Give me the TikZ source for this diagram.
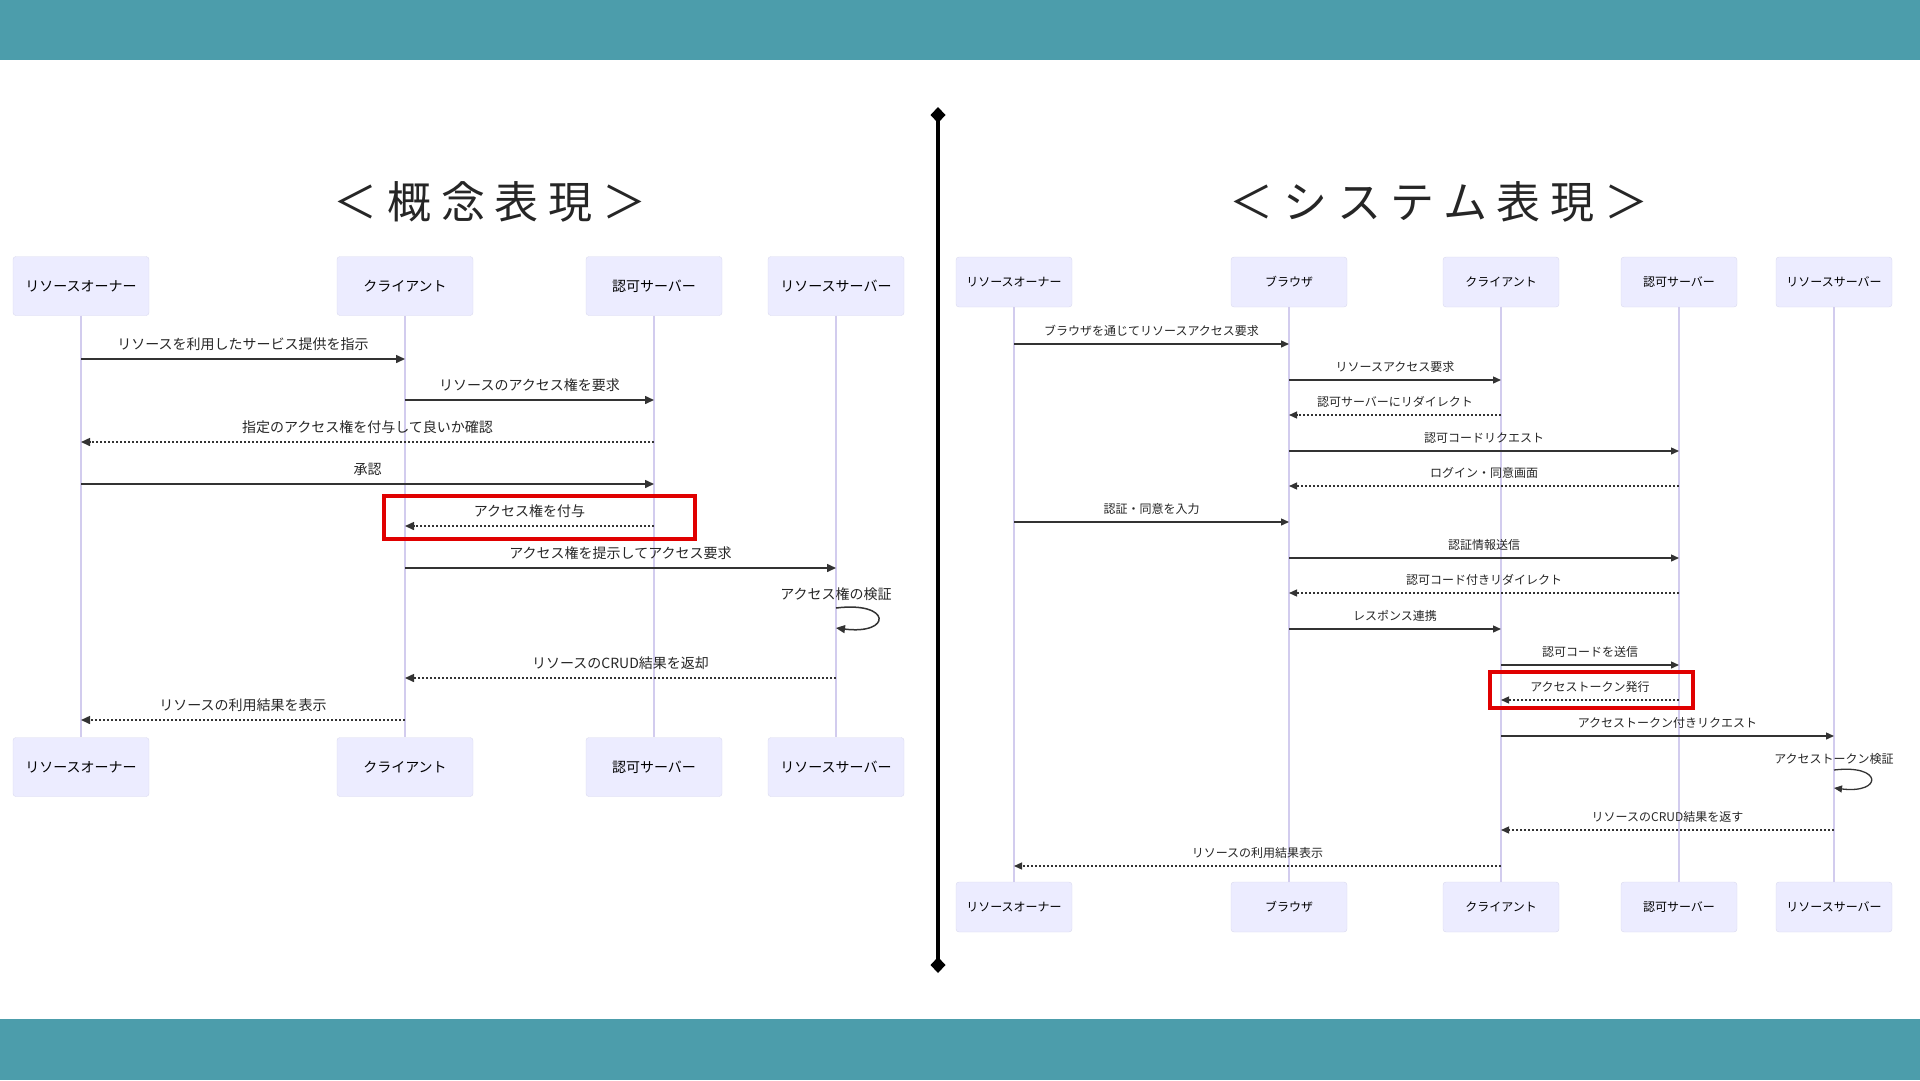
\documentclass[tikz,border=0pt]{standalone}
\usepackage{fontspec}
\setmainfont{Noto Sans CJK JP}
\newfontfamily\titlefont[LetterSpace=22]{Noto Sans CJK JP}
\usepackage{xcolor}
\usetikzlibrary{arrows.meta, positioning, calc}

\definecolor{bandteal}{HTML}{4C9DAB}
\definecolor{actorfill}{HTML}{ECECFF}
\definecolor{actorline}{HTML}{DADAEE}
\definecolor{lifecol}{HTML}{D2CCEE}
\definecolor{msgcol}{HTML}{333333}
\definecolor{hired}{HTML}{E00000}

\begin{document}
\begin{tikzpicture}[
x=1pt, y=-1pt,
    band/.style={fill=bandteal, draw=none},
    title/.style={font=\titlefont\fontsize{44}{50}\selectfont, text=black!85},
    actorL/.style={rectangle, draw=actorline, fill=actorfill, rounded corners=3pt, minimum width=136pt, minimum height=59pt, font=\fontsize{14}{16}\selectfont},
    actorR/.style={rectangle, draw=actorline, fill=actorfill, rounded corners=3pt, minimum width=116pt, minimum height=50pt, font=\fontsize{12}{14}\selectfont},
    life/.style={draw=lifecol, line width=1.5pt},
    msgL/.style={draw=msgcol, line width=1.5pt, -{Triangle[length=9pt,width=8pt]}},
    rplL/.style={msgL, dash pattern=on 2pt off 2pt},
    msgR/.style={draw=msgcol, line width=1.3pt, -{Triangle[length=8pt,width=7pt]}},
    rplR/.style={msgR, dash pattern=on 2pt off 2pt},
    textL/.style={inner sep=0pt, font=\fontsize{14}{16}\selectfont, text=black!85},
    textR/.style={inner sep=0pt, font=\fontsize{12}{14}\selectfont, text=black!85},
    lblL/.style={textL, midway, yshift=15pt},
    lblR/.style={textR, midway, yshift=13pt},
    hilite/.style={draw=hired, line width=4pt},
    divider/.style={line width=4pt, {Diamond[length=16pt,width=15pt]}-{Diamond[length=16pt,width=15pt]}}
]
\useasboundingbox (0,0) rectangle (1920,1080);

    % ================= FRAME =================
    \fill[band] (0,0) rectangle (1920,60);
    \fill[band] (0,1019) rectangle (1920,1080);

    \coordinate (divTop) at (938,107);
    \coordinate (divBot) at (938,973);
    \draw[divider] (divTop) -- (divBot);

    \node[title] (tConcept) at (490,202) {＜概念表現＞};
    \node[title] (tSystem) at (1439,202) {＜システム表現＞};

    % ================= CONCEPT: ACTORS =================
    \node[actorL] (cOwnerT) at (81,286) {リソースオーナー};
    \node[actorL] (cClientT) at (405,286) {クライアント};
    \node[actorL] (cAuthT) at (654,286) {認可サーバー};
    \node[actorL] (cResT) at (836,286) {リソースサーバー};

    \node[actorL] (cOwnerB) at (81,767) {リソースオーナー};
    \node[actorL] (cClientB) at (405,767) {クライアント};
    \node[actorL] (cAuthB) at (654,767) {認可サーバー};
    \node[actorL] (cResB) at (836,767) {リソースサーバー};

    \draw[life] (cOwnerT) -- (cOwnerB);
    \draw[life] (cClientT) -- (cClientB);
    \draw[life] (cAuthT) -- (cAuthB);
    \draw[life] (cResT) -- (cResB);

    % ================= CONCEPT: MESSAGES =================
    \draw[msgL] (cOwnerT |- 0,359) -- node[lblL] {リソースを利用したサービス提供を指示} (cClientT |- 0,359);
    \draw[msgL] (cClientT |- 0,400) -- node[lblL] {リソースのアクセス権を要求} (cAuthT |- 0,400);
    \draw[rplL] (cAuthT |- 0,442) -- node[lblL] {指定のアクセス権を付与して良いか確認} (cOwnerT |- 0,442);
    \draw[msgL] (cOwnerT |- 0,484) -- node[lblL] {承認} (cAuthT |- 0,484);
    \draw[rplL] (cAuthT |- 0,526) -- node[lblL] {アクセス権を付与} (cClientT |- 0,526);
    \draw[msgL] (cClientT |- 0,568) -- node[lblL] {アクセス権を提示してアクセス要求} (cResT |- 0,568);
    \node[textL] (cCheck) at (cResT |- 0,594) {アクセス権の検証};
    \draw[msgL] (cResT |- 0,608) .. controls +(56,-7) and +(56,7) .. (cResT |- 0,628);
    \draw[rplL] (cResT |- 0,678) -- node[lblL] {リソースのCRUD結果を返却} (cClientT |- 0,678);
    \draw[rplL] (cClientT |- 0,720) -- node[lblL] {リソースの利用結果を表示} (cOwnerT |- 0,720);

    \draw[hilite] (384,496) rectangle (695,539);

    % ================= SYSTEM: ACTORS =================
    \node[actorR] (sOwnerT) at (1014,282) {リソースオーナー};
    \node[actorR] (sBrowserT) at (1289,282) {ブラウザ};
    \node[actorR] (sClientT) at (1501,282) {クライアント};
    \node[actorR] (sAuthT) at (1679,282) {認可サーバー};
    \node[actorR] (sResT) at (1834,282) {リソースサーバー};

    \node[actorR] (sOwnerB) at (1014,907) {リソースオーナー};
    \node[actorR] (sBrowserB) at (1289,907) {ブラウザ};
    \node[actorR] (sClientB) at (1501,907) {クライアント};
    \node[actorR] (sAuthB) at (1679,907) {認可サーバー};
    \node[actorR] (sResB) at (1834,907) {リソースサーバー};

    \draw[life] (sOwnerT) -- (sOwnerB);
    \draw[life] (sBrowserT) -- (sBrowserB);
    \draw[life] (sClientT) -- (sClientB);
    \draw[life] (sAuthT) -- (sAuthB);
    \draw[life] (sResT) -- (sResB);

    % ================= SYSTEM: MESSAGES =================
    \draw[msgR] (sOwnerT |- 0,344) -- node[lblR] {ブラウザを通じてリソースアクセス要求} (sBrowserT |- 0,344);
    \draw[msgR] (sBrowserT |- 0,380) -- node[lblR] {リソースアクセス要求} (sClientT |- 0,380);
    \draw[rplR] (sClientT |- 0,415) -- node[lblR] {認可サーバーにリダイレクト} (sBrowserT |- 0,415);
    \draw[msgR] (sBrowserT |- 0,451) -- node[lblR] {認可コードリクエスト} (sAuthT |- 0,451);
    \draw[rplR] (sAuthT |- 0,486) -- node[lblR] {ログイン・同意画面} (sBrowserT |- 0,486);
    \draw[msgR] (sOwnerT |- 0,522) -- node[lblR] {認証・同意を入力} (sBrowserT |- 0,522);
    \draw[msgR] (sBrowserT |- 0,558) -- node[lblR] {認証情報送信} (sAuthT |- 0,558);
    \draw[rplR] (sAuthT |- 0,593) -- node[lblR] {認可コード付きリダイレクト} (sBrowserT |- 0,593);
    \draw[msgR] (sBrowserT |- 0,629) -- node[lblR] {レスポンス連携} (sClientT |- 0,629);
    \draw[msgR] (sClientT |- 0,665) -- node[lblR] {認可コードを送信} (sAuthT |- 0,665);
    \draw[rplR] (sAuthT |- 0,700) -- node[lblR] {アクセストークン発行} (sClientT |- 0,700);
    \draw[msgR] (sClientT |- 0,736) -- node[lblR] {アクセストークン付きリクエスト} (sResT |- 0,736);
    \node[textR] (sCheck) at (sResT |- 0,759) {アクセストークン検証};
    \draw[msgR] (sResT |- 0,770) .. controls +(49,-6) and +(49,6) .. (sResT |- 0,788);
    \draw[rplR] (sResT |- 0,830) -- node[lblR] {リソースのCRUD結果を返す} (sClientT |- 0,830);
    \draw[rplR] (sClientT |- 0,866) -- node[lblR] {リソースの利用結果表示} (sOwnerT |- 0,866);

    \draw[hilite] (1490,672) rectangle (1693,708);

\end{tikzpicture}
\end{document}
